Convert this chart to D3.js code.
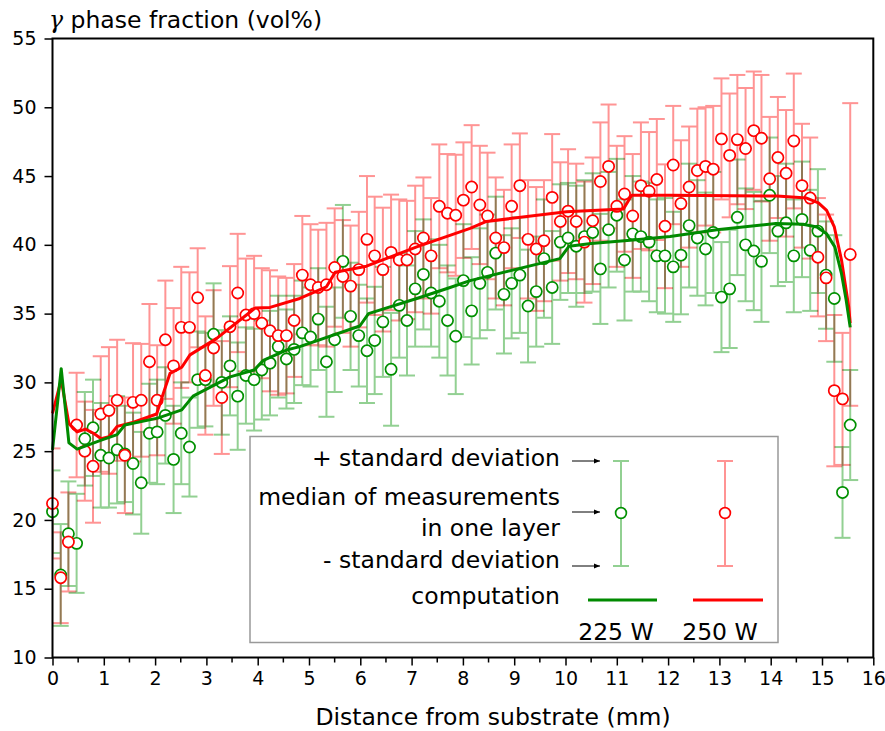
<!DOCTYPE html>
<html><head><meta charset="utf-8">
<script src="https://cdn.jsdelivr.net/npm/d3@7/dist/d3.min.js"></script>
<style>
html,body{margin:0;padding:0;background:#fff;}
text{font-family:"DejaVu Sans",sans-serif;fill:#000;}
</style></head>
<body>
<svg id="chart" width="885" height="731"></svg>
<script>
// ---- data ----
const depth = [0.00,0.16,0.31,0.47,0.63,0.79,0.94,1.10,1.26,1.41,1.57,1.73,1.89,2.04,2.20,2.36,2.51,2.67,2.83,2.98,
3.14,3.30,3.46,3.61,3.77,3.93,4.08,4.24,4.40,4.56,4.71,4.87,5.03,5.18,5.34,5.50,5.66,5.81,5.97,6.13,
6.28,6.44,6.60,6.76,6.91,7.07,7.23,7.38,7.54,7.70,7.86,8.01,8.17,8.33,8.48,8.64,8.80,8.95,9.11,9.27,
9.43,9.58,9.74,9.90,10.05,10.21,10.37,10.53,10.68,10.84,11.00,11.15,11.31,11.47,11.63,11.78,11.94,12.10,12.25,12.41,
12.57,12.73,12.88,13.04,13.20,13.35,13.51,13.67,13.82,13.98,14.14,14.30,14.45,14.61,14.77,14.92,15.08,15.24,15.40,15.55];

const median225 = [20.6,16.0,19.0,18.3,25.9,26.7,24.7,24.5,25.1,24.8,24.1,22.7,26.3,26.4,27.6,24.4,26.3,25.3,30.2,30.2,
33.5,30.0,31.2,29.0,30.5,30.2,30.9,31.4,32.6,31.7,32.4,33.6,33.3,34.6,31.5,33.1,38.8,34.8,33.4,32.3,
33.05,34.4,30.95,35.6,34.5,36.8,37.85,36.5,35.9,34.5,33.35,37.4,35.2,37.2,38.0,39.4,36.4,37.2,37.8,35.55,
36.6,39.0,36.9,40.2,40.5,39.9,40.6,40.9,38.25,41.1,42.15,38.9,40.8,40.6,40.2,39.2,39.2,38.4,39.25,41.4,
40.5,39.7,40.9,36.2,36.8,42.0,40.0,39.55,38.8,43.6,41.0,41.6,39.2,41.85,39.6,41.0,37.8,36.1,22.0,26.9];

const sd225 = [3.0,3.7,3.8,3.6,3.4,3.5,3.8,3.6,3.9,3.5,3.7,3.7,3.6,3.8,3.5,3.9,3.7,3.6,3.5,3.4,
3.7,3.8,3.6,3.9,3.5,3.7,3.6,3.8,3.7,3.6,3.9,3.8,3.6,3.7,4.0,3.8,4.1,3.9,3.7,3.8,
3.9,4.0,4.1,3.8,4.0,4.2,4.0,3.9,4.1,4.0,4.2,4.1,3.9,4.0,4.2,4.1,4.3,4.0,4.2,4.1,
4.0,4.3,4.1,4.2,4.0,4.4,4.1,4.3,4.0,4.2,4.1,4.4,4.2,4.0,4.3,4.1,4.2,4.0,4.3,4.5,
4.2,4.1,4.4,4.0,4.3,4.2,4.1,4.3,4.4,4.2,4.0,4.3,4.1,4.2,4.4,4.5,3.9,4.6,3.3,4.0];

const median250 = [21.2,15.8,18.4,26.9,25.0,23.9,27.7,27.96,28.7,24.7,28.55,28.7,31.5,28.7,33.1,31.2,34.0,34.0,36.15,30.5,
32.5,28.9,34.05,36.5,34.9,35.0,34.3,33.75,33.4,33.4,34.5,37.8,37.1,36.9,37.1,38.35,37.7,37.0,38.2,40.4,
39.2,38.2,39.45,38.9,38.9,39.7,40.5,39.2,42.8,42.3,42.15,43.25,44.2,42.9,42.1,40.5,39.8,42.8,44.3,40.4,
39.7,40.3,43.45,41.7,42.45,41.7,40.2,41.75,44.6,45.7,42.8,43.7,42.1,44.3,43.9,44.75,41.35,45.8,43.0,44.2,
45.4,45.7,45.5,47.7,46.5,47.65,47.0,48.3,47.75,44.8,46.35,45.2,47.55,44.3,43.4,39.1,37.6,29.4,28.8,39.3];

const sd250 = [4.0,3.3,3.6,3.8,3.6,4.1,4.2,4.6,4.4,4.2,4.3,4.1,4.2,4.0,4.3,4.2,4.4,4.0,3.6,4.3,
4.2,4.1,4.4,4.3,4.1,4.2,4.0,4.4,4.3,4.2,4.1,4.3,4.4,4.2,4.5,4.3,4.1,4.4,4.2,4.6,
4.3,4.5,4.2,4.4,4.3,4.6,4.4,4.2,4.5,4.3,4.4,4.2,4.5,4.3,4.6,4.4,4.2,4.5,3.8,4.3,
4.5,4.4,4.6,4.3,4.5,4.2,4.4,4.6,4.3,4.5,4.4,4.2,4.5,4.6,4.3,4.4,4.5,4.3,4.6,4.4,
4.5,4.3,4.6,4.4,4.5,4.7,4.4,4.3,4.6,4.5,4.4,4.6,4.9,4.5,4.4,4.3,4.6,5.5,4.8,11.0];

const compX225 = [0,0.17,0.32,0.48,0.95,1.26,1.41,2.05,2.52,2.74,3.46,3.93,4.11,4.56,4.82,5.99,6.16,7.1,7.75,8.14,9.89,10.07,10.5,11.32,12.04,12.95,14.1,14.63,14.9,15.09,15.25,15.38,15.47,15.55];
const compY225 = [25.1,31.0,25.6,25.15,25.8,26.2,26.9,27.4,28.0,29.0,30.4,30.9,31.6,32.35,32.6,34.1,35.0,36.1,36.9,37.4,39.0,39.9,40.1,40.35,40.6,41.1,41.55,41.5,41.3,40.8,39.85,37.9,36.0,34.0];

const compX250 = [0,0.17,0.32,0.48,0.64,0.80,0.95,1.10,1.26,1.58,2.03,2.16,2.29,2.52,2.68,3.2,3.78,3.95,4.24,4.82,5.34,5.51,6.12,7.1,8.14,8.46,10.02,11.13,11.29,12.04,14.12,14.7,14.93,15.09,15.24,15.38,15.52,15.55];
const compY250 = [27.75,30.2,27.0,26.4,26.6,26.3,25.9,26.05,26.8,27.1,27.7,29.2,30.65,31.1,32.0,33.2,34.9,35.4,35.45,36.1,36.95,38.0,38.45,39.85,41.2,41.7,42.4,42.6,43.6,43.6,43.55,43.4,43.05,42.5,41.3,38.9,35.5,34.3];

const xTicks = [0,1,2,3,4,5,6,7,8,9,10,11,12,13,14,15,16];
const yTicks = [10,15,20,25,30,35,40,45,50,55];

// ---- chart ----
const svg = d3.select("#chart");
const L = 52.5, R = 873.3, T = 38.5, B = 657.5;
const x = d3.scaleLinear().domain([0,16]).range([L,R]);
const y = d3.scaleLinear().domain([10,55]).range([B,T]);

const C = {
  gBar:"#92d092", rBar:"#ff9494",
  gPt:"#009000", rPt:"#ff0000",
  gLine:"#008a00", rLine:"#ff0000"
};
const capW = 8;

function bars(g, med, sd, color){
  const d = depth.map((v,i)=>({x:v, lo:med[i]-sd[i], hi:med[i]+sd[i]}));
  const sel = g.selectAll("g").data(d).join("g");
  sel.append("line").attr("x1",e=>x(e.x)).attr("x2",e=>x(e.x)).attr("y1",e=>y(e.lo)).attr("y2",e=>y(e.hi));
  sel.append("line").attr("x1",e=>x(e.x)-capW).attr("x2",e=>x(e.x)+capW).attr("y1",e=>y(e.hi)).attr("y2",e=>y(e.hi));
  sel.append("line").attr("x1",e=>x(e.x)-capW).attr("x2",e=>x(e.x)+capW).attr("y1",e=>y(e.lo)).attr("y2",e=>y(e.lo));
  g.attr("stroke",color).attr("stroke-width",2).attr("fill","none");
}
const plot = svg.append("g");
svg.append("clipPath").attr("id","clip").append("rect").attr("x",L).attr("y",T).attr("width",R-L).attr("height",B-T);
const gB = plot.append("g").attr("clip-path","url(#clip)");
bars(gB.append("g"), median225, sd225, C.gBar);
const rb = gB.append("g").style("mix-blend-mode","multiply");
bars(rb, median250, sd250, C.rBar);

function points(med, color){
  plot.append("g").selectAll("circle").data(depth.map((v,i)=>[v,med[i]])).join("circle")
    .attr("cx",d=>x(d[0])).attr("cy",d=>y(d[1])).attr("r",5.6)
    .attr("fill","#fff").attr("stroke",color).attr("stroke-width",1.7);
}
points(median225, C.gPt);
points(median250, C.rPt);

const line = d3.line().x(d=>x(d[0])).y(d=>y(d[1]));
plot.append("path").datum(compX250.map((v,i)=>[v,compY250[i]])).attr("d",line)
  .attr("fill","none").attr("stroke",C.rLine).attr("stroke-width",3).attr("stroke-linejoin","round");
plot.append("path").datum(compX225.map((v,i)=>[v,compY225[i]])).attr("d",line)
  .attr("fill","none").attr("stroke",C.gLine).attr("stroke-width",3).attr("stroke-linejoin","round");

// axes
const xAxis = d3.axisBottom(x).tickValues(xTicks).tickSize(8).tickPadding(6).tickFormat(d3.format("d"));
const gx = svg.append("g").attr("transform",`translate(0,${B})`).call(xAxis);
gx.selectAll("text").style("font-size","19px").style("font-family","DejaVu Sans");
gx.select(".domain").remove();
const minor = d3.range(0,16,1).map(v=>v+0.5);
gx.append("g").selectAll("line").data(minor).join("line")
  .attr("x1",d=>x(d)).attr("x2",d=>x(d)).attr("y1",0).attr("y2",5).attr("stroke","#000").attr("stroke-width",1.5);
gx.selectAll(".tick line").attr("stroke-width",1.5);

const yAxis = d3.axisLeft(y).tickValues(yTicks).tickSize(8).tickPadding(8);
const gy = svg.append("g").attr("transform",`translate(${L},0)`).call(yAxis);
gy.selectAll("text").style("font-size","19px").style("font-family","DejaVu Sans");
gy.select(".domain").remove();
gy.selectAll(".tick line").attr("stroke-width",1.5);

svg.append("rect").attr("x",L).attr("y",T).attr("width",R-L).attr("height",B-T)
  .attr("fill","none").attr("stroke","#000").attr("stroke-width",2);

// titles
svg.append("text").attr("x",493).attr("y",725).attr("text-anchor","middle")
  .style("font-size","23.5px").text("Distance from substrate (mm)");
const yt = svg.append("text").attr("x",49).attr("y",28).style("font-size","23.5px");
yt.append("tspan").style("font-family","DejaVu Serif").style("font-style","italic").text("γ");
yt.append("tspan").text(" phase fraction (vol%)");

// legend
const lg = svg.append("g");
lg.append("rect").attr("x",250).attr("y",436.5).attr("width",528).attr("height",206)
  .attr("fill","#fff").attr("stroke","#999").attr("stroke-width",1.5);
const lt = [["+ standard deviation",466],["median of measurements",505],["in one layer",536],["- standard deviation",568],["computation",604]];
lg.selectAll("text.l").data(lt).join("text").attr("class","l").attr("x",560).attr("y",d=>d[1])
  .attr("text-anchor","end").style("font-size","23.5px").text(d=>d[0]);
svg.append("defs").append("marker").attr("id","arr").attr("viewBox","0 0 10 10").attr("refX",10).attr("refY",5)
  .attr("markerWidth",6).attr("markerHeight",6).attr("orient","auto")
  .append("path").attr("d","M0,1 L10,5 L0,9 z").attr("fill","#000");
[461,512,566].forEach(yy=>{
  lg.append("line").attr("x1",572).attr("x2",600).attr("y1",yy).attr("y2",yy)
    .attr("stroke","#000").attr("stroke-width",1).attr("marker-end","url(#arr)");
});
[[621,C.gBar,C.gPt],[725,C.rBar,C.rPt]].forEach(([cx,bc,pc])=>{
  lg.append("line").attr("x1",cx).attr("x2",cx).attr("y1",461).attr("y2",566).attr("stroke",bc).attr("stroke-width",2);
  lg.append("line").attr("x1",cx-8).attr("x2",cx+8).attr("y1",461).attr("y2",461).attr("stroke",bc).attr("stroke-width",2);
  lg.append("line").attr("x1",cx-8).attr("x2",cx+8).attr("y1",566).attr("y2",566).attr("stroke",bc).attr("stroke-width",2);
  lg.append("circle").attr("cx",cx).attr("cy",513).attr("r",5.4).attr("fill","#fff").attr("stroke",pc).attr("stroke-width",1.7);
});
lg.append("line").attr("x1",588).attr("x2",657).attr("y1",600).attr("y2",600).attr("stroke",C.gLine).attr("stroke-width",3);
lg.append("line").attr("x1",693).attr("x2",763).attr("y1",600).attr("y2",600).attr("stroke",C.rLine).attr("stroke-width",3);
lg.append("text").attr("x",616).attr("y",640).attr("text-anchor","middle").style("font-size","23.5px").text("225 W");
lg.append("text").attr("x",720).attr("y",640).attr("text-anchor","middle").style("font-size","23.5px").text("250 W");
</script>
</body></html>
